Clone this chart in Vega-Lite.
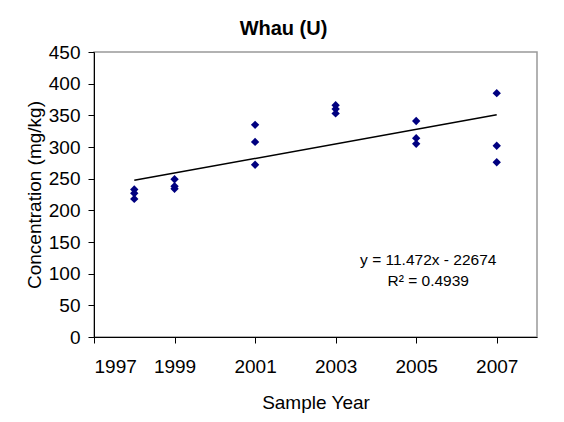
{
  "$schema": "https://vega.github.io/schema/vega-lite/v6.json",
  "autosize": "none",
  "width": 443,
  "height": 285,
  "padding": {"left": 94, "top": 52, "right": 27, "bottom": 85},
  "background": "white",
  "config": {
    "font": "Liberation Sans",
    "view": {"stroke": "#999999", "strokeWidth": 1.5},
    "axis": {
      "domainColor": "black",
      "domainWidth": 1,
      "tickColor": "black",
      "tickSize": 6,
      "grid": false,
      "labelOverlap": false,
      "labelFont": "Liberation Sans",
      "labelFontSize": 19,
      "labelColor": "black",
      "titleFont": "Liberation Sans",
      "titleFontSize": 19,
      "titleFontWeight": "normal",
      "titleColor": "black"
    }
  },
  "title": {
    "text": "Whau (U)",
    "font": "Liberation Sans",
    "fontSize": 20,
    "fontWeight": "bold",
    "color": "black",
    "anchor": "middle",
    "dx": -32,
    "offset": 4
  },
  "data": {
    "values": [
      {"year": 1998, "conc": 233},
      {"year": 1998, "conc": 227},
      {"year": 1998, "conc": 218},
      {"year": 1999, "conc": 249},
      {"year": 1999, "conc": 238},
      {"year": 1999, "conc": 234},
      {"year": 2001, "conc": 335},
      {"year": 2001, "conc": 308},
      {"year": 2001, "conc": 272},
      {"year": 2003, "conc": 366},
      {"year": 2003, "conc": 360},
      {"year": 2003, "conc": 353},
      {"year": 2005, "conc": 341},
      {"year": 2005, "conc": 314},
      {"year": 2005, "conc": 305},
      {"year": 2007, "conc": 385},
      {"year": 2007, "conc": 302},
      {"year": 2007, "conc": 276}
    ]
  },
  "encoding": {
    "x": {
      "field": "year",
      "type": "quantitative",
      "scale": {"domain": [1997, 2008], "nice": false, "zero": false},
      "axis": {"values": [1997, 1999, 2001, 2003, 2005, 2007], "format": "d", "title": "Sample Year", "labelPadding": 14, "titlePadding": 17}
    },
    "y": {
      "field": "conc",
      "type": "quantitative",
      "scale": {"domain": [0, 450], "nice": false},
      "axis": {"values": [0, 50, 100, 150, 200, 250, 300, 350, 400, 450], "labelOverlap": false, "title": "Concentration (mg/kg)", "labelPadding": 8, "titlePadding": 4}
    }
  },
  "layer": [
    {
      "mark": {"type": "line", "color": "black", "strokeWidth": 1.5},
      "transform": [{"regression": "conc", "on": "year"}]
    },
    {
      "mark": {"type": "point", "shape": "diamond", "filled": true, "color": "#000080", "size": 70, "opacity": 1}
    },
    {
      "data": {"values": [{"year": 2005.3, "conc": 122, "label": "y = 11.472x - 22674"}, {"year": 2005.3, "conc": 88, "label": "R² = 0.4939"}]},
      "mark": {"type": "text", "font": "Liberation Sans", "fontSize": 15.5, "color": "black", "align": "center", "baseline": "middle"},
      "encoding": {
        "text": {"field": "label"}
      }
    }
  ]
}
